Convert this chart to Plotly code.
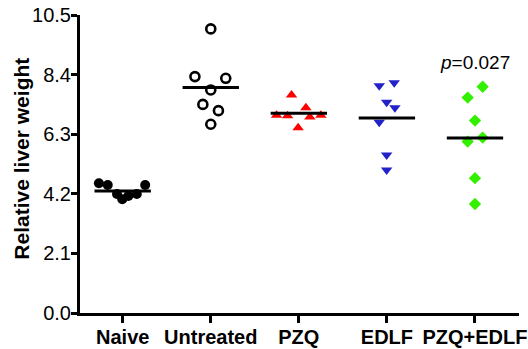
import numpy as np
import plotly.graph_objects as go

# Groups shown along the x axis
groups = ["Naive", "Untreated", "PZQ", "EDLF", "PZQ+EDLF"]

# Relative liver weight per animal
naive = [4.57, 4.51, 4.19, 4.01, 4.12, 4.19, 4.51]
untreated = [10.01, 8.33, 8.27, 7.86, 7.35, 7.13, 6.65]
pzq = [7.68, 6.97, 6.95, 7.23, 6.91, 6.97, 6.53]
edlf = [8.01, 8.11, 7.43, 7.23, 6.72, 5.57, 5.04]
pzq_edlf = [7.97, 7.59, 6.78, 6.04, 6.18, 4.75, 3.84]

y_ticks = [0.0, 2.1, 4.2, 6.3, 8.4, 10.5]
p_label = "<i>p</i>=0.027"

series = [naive, untreated, pzq, edlf, pzq_edlf]

# Horizontal scatter of points within each column (in category units)
jitter = [
    [-0.27, -0.17, -0.065, -0.005, 0.064, 0.16, 0.255],
    [0.0, -0.18, 0.17, 0.0, -0.09, 0.087, 0.0],
    [-0.083, -0.253, -0.128, 0.08, 0.125, 0.25, -0.008],
    [-0.087, 0.083, -0.003, 0.091, -0.087, -0.003, -0.003],
    [0.087, -0.083, 0.0, -0.083, 0.087, 0.0, 0.0],
]

marker_styles = [
    dict(symbol="circle", size=10, color="black", line=dict(width=0)),
    dict(symbol="circle-open", size=9, color="black", line=dict(width=2.6, color="black")),
    dict(symbol="triangle-up", size=10, color="#FF0000", line=dict(width=0)),
    dict(symbol="triangle-down", size=10, color="#2222C8", line=dict(width=0)),
    dict(symbol="diamond", size=9.5, color="#33F000", line=dict(width=0)),
]

FONT = "Arial, Liberation Sans, sans-serif"

fig = go.Figure()

for i, vals in enumerate(series):
    xs = [i + j for j in jitter[i]]
    fig.add_trace(go.Scatter(
        x=xs, y=vals, mode="markers", marker=marker_styles[i],
        showlegend=False, hoverinfo="y",
    ))

# Group means as horizontal bars
for i, vals in enumerate(series):
    m = float(np.mean(vals))
    fig.add_trace(go.Scatter(
        x=[i - 0.32, i + 0.32], y=[m, m], mode="lines",
        line=dict(color="black", width=3), showlegend=False, hoverinfo="skip",
    ))

fig.add_annotation(
    x=4, y=8.81, xref="x", yref="y", text=p_label, showarrow=False,
    font=dict(family=FONT, size=19, color="black"),
    xanchor="center", yanchor="middle",
)

fig.add_annotation(
    x=-58 / 439, y=0.518, xref="paper", yref="paper",
    text="<b>Relative liver weight</b>", textangle=-90, showarrow=False,
    font=dict(family=FONT, size=21, color="black"),
    xanchor="center", yanchor="middle",
)

fig.update_xaxes(
    range=[-0.485, 4.5], tickmode="array", tickvals=list(range(len(groups))),
    ticktext=[f"<b>{g}</b>" for g in groups],
    showline=True, linecolor="black", linewidth=3,
    ticks="outside", ticklen=7, tickwidth=3, tickcolor="black",
    ticklabelstandoff=-3,
    showgrid=False, zeroline=False,
    tickfont=dict(family=FONT, size=20, color="black"),
    automargin=False,
)
fig.update_yaxes(
    range=[0, 10.5], tickmode="array", tickvals=y_ticks,
    ticktext=[f"{v:.1f}" for v in y_ticks],
    showline=True, linecolor="black", linewidth=3,
    ticks="outside", ticklen=6, tickwidth=3, tickcolor="black",
    ticklabelstandoff=-4,
    showgrid=False, zeroline=False,
    tickfont=dict(family=FONT, size=20, color="black"),
    automargin=False,
)

fig.update_layout(
    width=528, height=349,
    margin=dict(l=80, r=9, t=15, b=36),
    paper_bgcolor="white", plot_bgcolor="white",
)

fig.write_html("out.html")
